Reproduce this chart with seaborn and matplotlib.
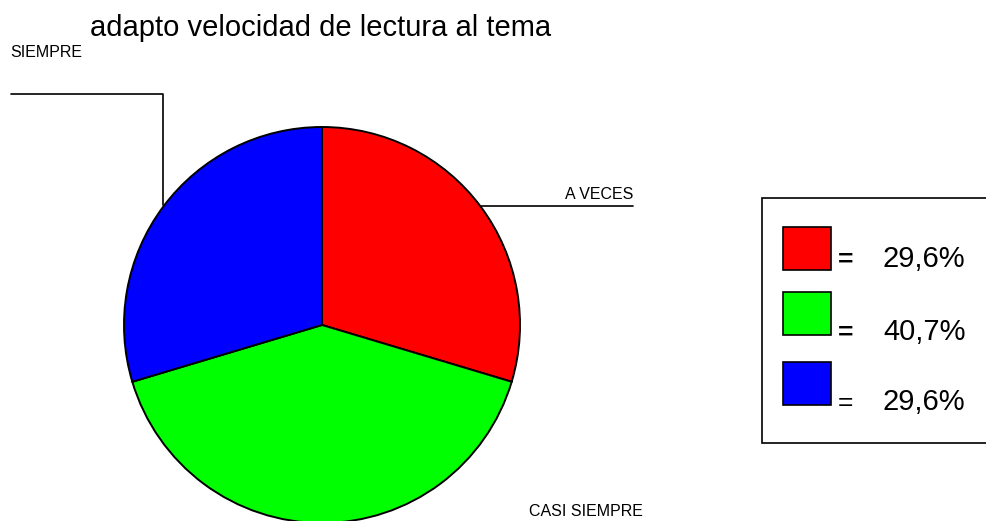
import matplotlib
matplotlib.use("Agg")
import matplotlib.pyplot as plt
import seaborn as sns
from matplotlib.patches import Rectangle

# ---------------- data ----------------
categorias = ["A VECES", "CASI SIEMPRE", "SIEMPRE"]
porcentajes = [29.6, 40.7, 29.6]
colores = ["#ff0000", "#00ff00", "#0000ff"]
titulo = "adapto velocidad de lectura al tema"

sns.set_style("white")
plt.rcParams["font.family"] = ["Liberation Sans", "DejaVu Sans"]
plt.rcParams["text.color"] = "black"

W, H = 986, 521
fig = plt.figure(figsize=(W / 100, H / 100), dpi=100)
ax = fig.add_axes([0, 0, 1, 1])

# pie, drawn in pixel-like coordinates (y up)
ax.pie(porcentajes, colors=colores, startangle=90, counterclock=False,
       center=(322, H - 325), radius=198,
       wedgeprops=dict(edgecolor="black", linewidth=1.4))
ax.set_xlim(0, W)
ax.set_ylim(0, H)
ax.set_aspect("equal")
ax.axis("off")

# title
ax.text(90, H - 36, titulo, fontsize=21, ha="left", va="baseline")

# slice labels with leader lines
ax.text(633, H - 199, categorias[0], fontsize=11.5, ha="right", va="baseline")
ax.plot([480, 633], [H - 206, H - 206], color="black", lw=1.2)

ax.text(529, H - 516, categorias[1], fontsize=11.5, ha="left", va="baseline")

ax.text(10, H - 57, categorias[2], fontsize=11.5, ha="left", va="baseline")
ax.plot([11, 163, 163], [H - 94, H - 94, H - 205], color="black", lw=1.2)

# legend box built by hand
ax.add_patch(Rectangle((762, H - 443), 260, 245, facecolor="white",
                       edgecolor="black", lw=1.2, clip_on=True))
sq_tops = [227, 292, 362]
baselines = [267, 340, 410]
pesos = ["bold", "bold", "normal"]
for col, v, top, base, w in zip(colores, porcentajes, sq_tops, baselines, pesos):
    ax.add_patch(Rectangle((783, H - top - 43), 48, 43, facecolor=col,
                           edgecolor="black", lw=1.2))
    ax.text(838, H - base, "=", fontsize=19, fontweight=w,
            ha="left", va="baseline")
    txt = f"{v:.1f}".replace(".", ",") + "%"
    ax.text(883, H - base, txt, fontsize=21, ha="left", va="baseline")

fig.savefig("out.png", dpi=100)
